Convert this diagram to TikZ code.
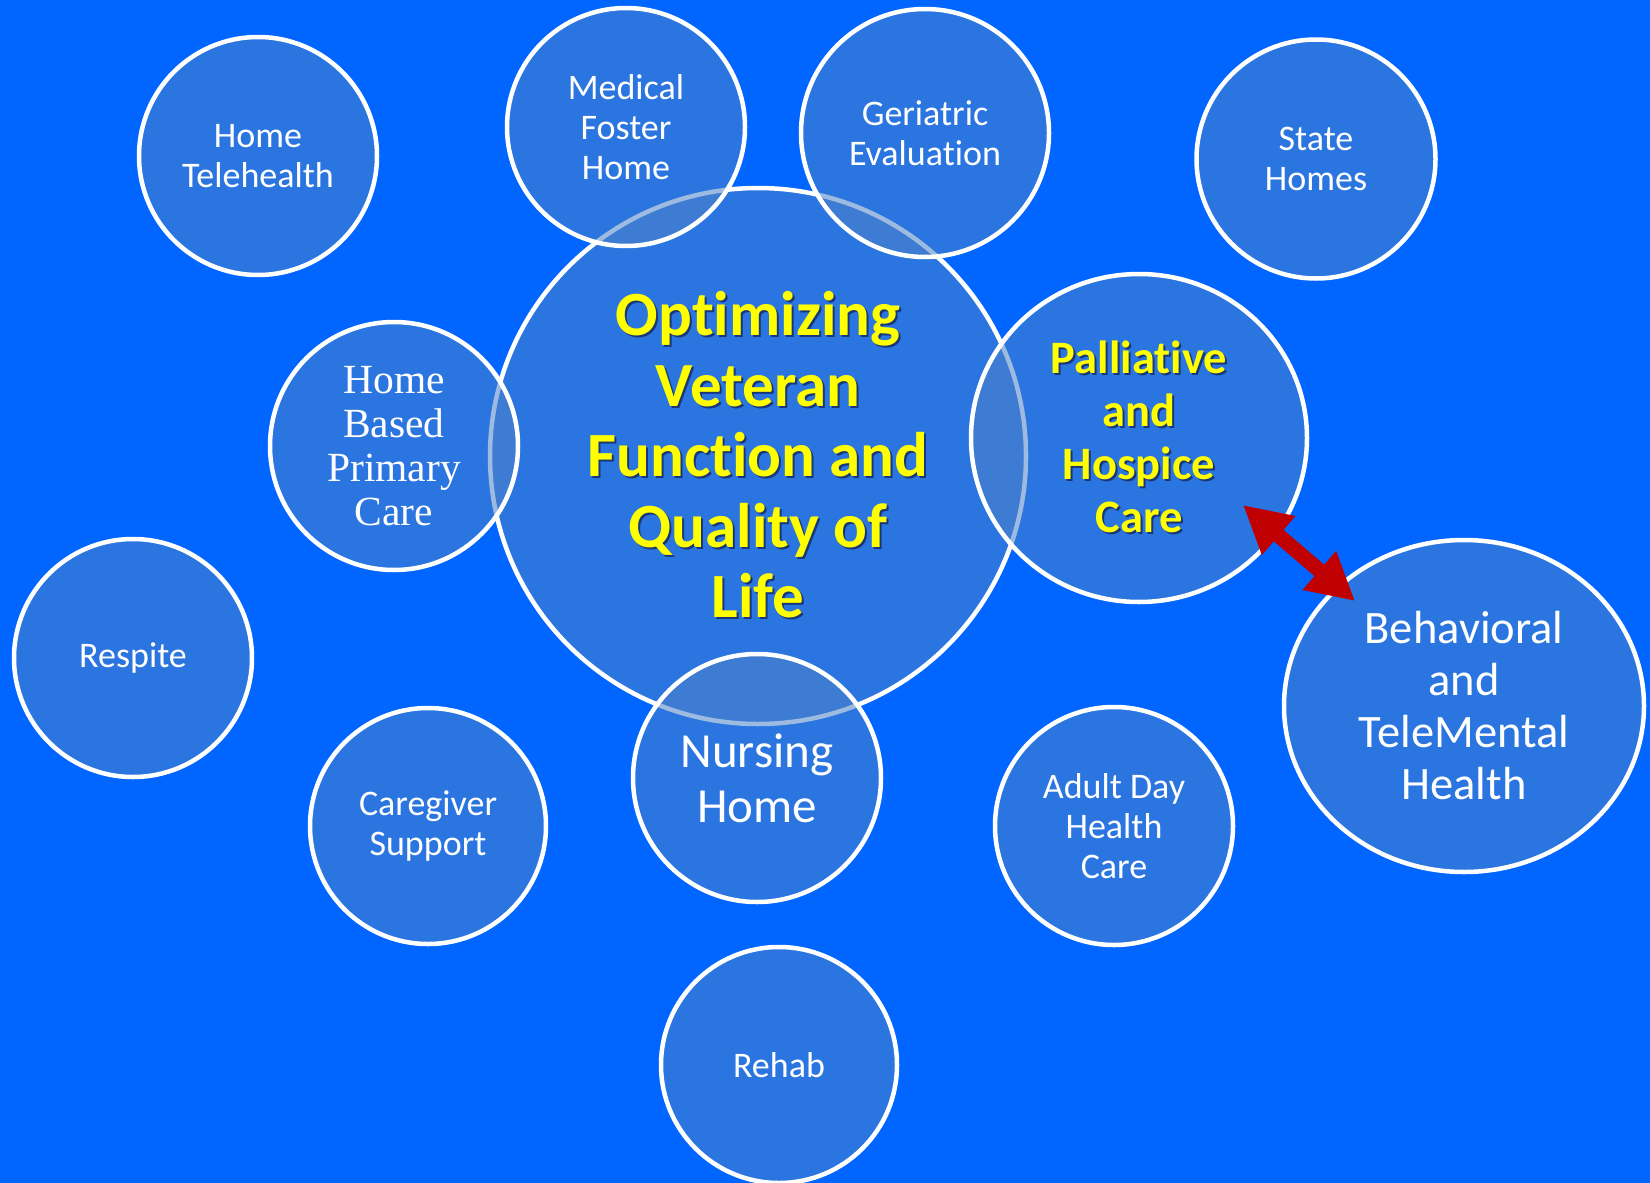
\documentclass[tikz,border=0pt]{standalone}
\usepackage{fontspec}
\setmainfont[Ligatures=NoCommon]{Carlito}
\newfontfamily\timesface{Liberation Serif}
\usetikzlibrary{arrows.meta,shapes.geometric}
\definecolor{slideblue}{HTML}{0066FF}
\definecolor{bubbleblue}{RGB}{78,130,200}
\definecolor{titleyellow}{HTML}{FFFF00}
\definecolor{shadowblue}{RGB}{25,55,120}
\definecolor{arrowred}{HTML}{C00000}
\newcommand{\shtext}[1]{\leavevmode\rlap{\kern2pt\raisebox{-2pt}{\color{shadowblue}#1}}#1}

\begin{document}
\begin{tikzpicture}[
    x=1pt, y=-1pt,
    bubble/.style={circle, draw=white, line width=4.5pt, fill=bubbleblue, fill opacity=0.55,
        text opacity=1, text=white, align=center, inner sep=0pt, font=\fontsize{36}{40}\selectfont},
    oval/.style={bubble, ellipse},
    headline/.style={text=titleyellow, font=\bfseries\fontsize{63}{70.5}\selectfont},
    dblarrow/.style={draw=arrowred, line width=15pt,
        {Triangle[length=47pt,width=48pt]}-{Triangle[length=47pt,width=48pt]}}]

\fill[slideblue] (0,0) rectangle (1650,1183);
\useasboundingbox (0,0) rectangle (1650,1183);

\node[bubble, minimum size=536pt, headline] (quality) at (758,456)
    {\shtext{Optimizing}\\ \shtext{Veteran}\\ \shtext{Function and}\\ \shtext{Quality of}\\ \shtext{Life}};

\node[bubble, minimum size=238pt] (telehealth) at (258,156) {Home\\Telehealth};
\node[bubble, minimum size=238pt] (foster) at (626,127) {Medical\\Foster\\Home};
\node[bubble, minimum size=248pt] (geriatric) at (925,133) {Geriatric\\Evaluation};
\node[bubble, minimum size=239pt] (statehomes) at (1316,159) {State\\Homes};
\node[bubble, minimum size=248pt, font=\timesface\fontsize{41.5}{44}\selectfont] (hbpc) at (394,446)
    {Home\\Based\\Primary\\Care};
\node[oval, minimum width=336pt, minimum height=328pt, text=titleyellow,
    font=\bfseries\fontsize{46.5}{53}\selectfont] (palliative) at (1139,438)
    {\shtext{Palliative}\\ \shtext{and}\\ \shtext{Hospice}\\ \shtext{Care}};
\node[oval, minimum width=360pt, minimum height=332pt, font=\fontsize{46.5}{52}\selectfont] (behavioral) at (1464,706)
    {Behavioral\\and\\TeleMental\\Health};
\node[bubble, minimum size=238pt] (respite) at (133,658) {Respite};
\node[bubble, minimum size=236pt] (caregiver) at (428,826) {Caregiver\\Support};
\node[bubble, minimum size=248pt, font=\fontsize{49}{55}\selectfont] (nursing) at (757,778) {Nursing\\Home};
\node[bubble, minimum size=238pt] (adultday) at (1114,826) {Adult Day\\Health\\Care};
\node[bubble, minimum size=236pt] (rehab) at (779,1065) {Rehab};

\coordinate (palltip) at ([shift={(104,67)}]palliative.center);
\coordinate (behavtip) at ([shift={(-109,-105)}]behavioral.center);
\path[dblarrow] (palltip) -- (behavtip);

\end{tikzpicture}
\end{document}
